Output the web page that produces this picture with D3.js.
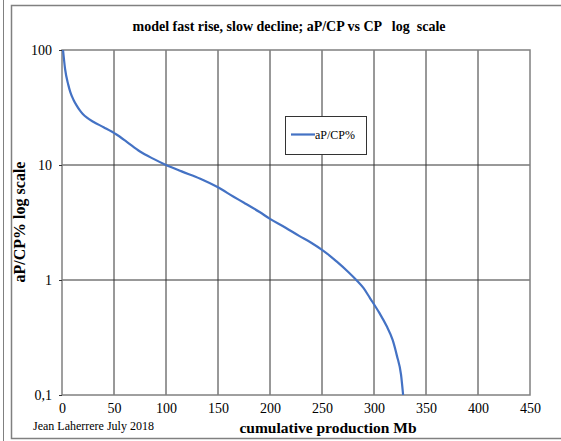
<!DOCTYPE html>
<html>
<head>
<meta charset="utf-8">
<script src="https://cdn.jsdelivr.net/npm/d3@7"></script>
<style>
body { margin: 0; background: #fff; }
text { font-family: "Liberation Serif", "Times New Roman", serif; fill: #000; }
</style>
</head>
<body>
<script>
// cumulative production (Mb) and aP/CP %
var cp = [1, 3, 6, 8, 11, 14, 17, 20, 24, 30, 40, 52, 62, 75, 88, 100, 115, 133, 150, 165, 175, 190, 200,
	215, 228, 240, 250, 257, 264, 275, 283, 290, 296, 305, 312, 318, 322, 326, 328];
var apcp = [100, 68, 50, 43, 37, 33, 30, 27.8, 25.8, 23.8, 21.3, 18.5, 16, 13.1, 11.3, 10, 8.8, 7.6, 6.4, 5.3, 4.7, 3.9, 3.4,
	2.85, 2.42, 2.1, 1.83, 1.64, 1.45, 1.18, 1, 0.85, 0.7, 0.52, 0.4, 0.3, 0.22, 0.15, 0.1];
var xTicks = [0, 50, 100, 150, 200, 250, 300, 350, 400, 450];
var yTicks = [0.1, 1, 10, 100];
var yLabels = ["0,1", "1", "10", "100"];

var W = 561, H = 441;
var svg = d3.select("body").append("svg").attr("width", W).attr("height", H);

// outer frames
svg.append("line").attr("x1", 3.5).attr("x2", 3.5).attr("y1", 0).attr("y2", H)
	.attr("stroke", "#808080").attr("stroke-width", 1);
svg.append("rect").attr("x", 11.5).attr("y", 5.5).attr("width", 560).attr("height", 433)
	.attr("fill", "none").attr("stroke", "#808080").attr("stroke-width", 1.5);

var x = d3.scaleLinear().domain([0, 450]).range([62, 530]);
var y = d3.scaleLog().domain([0.1, 100]).range([395, 50]);

// grid
svg.append("g").selectAll("line").data(xTicks.slice(1, -1)).enter().append("line")
	.attr("x1", function(d) { return x(d); }).attr("x2", function(d) { return x(d); })
	.attr("y1", y(100)).attr("y2", y(0.1))
	.attr("stroke", "#333").attr("stroke-width", 1);
svg.append("g").selectAll("line").data([1, 10]).enter().append("line")
	.attr("x1", x(0)).attr("x2", x(450))
	.attr("y1", function(d) { return y(d); }).attr("y2", function(d) { return y(d); })
	.attr("stroke", "#333").attr("stroke-width", 1);

// plot border
svg.append("rect").attr("x", x(0)).attr("y", y(100))
	.attr("width", x(450) - x(0)).attr("height", y(0.1) - y(100))
	.attr("fill", "none").attr("stroke", "#808080").attr("stroke-width", 1.5);

// axes
var xAxis = svg.append("g").attr("transform", "translate(0," + y(0.1) + ")")
	.call(d3.axisBottom(x).tickValues(xTicks).tickSize(0).tickPadding(8));
xAxis.select(".domain").remove();
xAxis.selectAll("text").style("font-size", "14px").style("font-family", "Liberation Serif");

var yAxis = svg.append("g").attr("transform", "translate(" + x(0) + ",0)")
	.call(d3.axisLeft(y).tickValues(yTicks).tickSize(3).tickPadding(7)
		.tickFormat(function(d, i) { return yLabels[i]; }));
yAxis.select(".domain").remove();
yAxis.selectAll("line").attr("stroke", "#333");
yAxis.selectAll("text").style("font-size", "14px").style("font-family", "Liberation Serif");

// curve
var line = d3.line()
	.x(function(d, i) { return x(cp[i]); })
	.y(function(d, i) { return y(apcp[i]); })
	.curve(d3.curveMonotoneX);
svg.append("path").datum(cp).attr("d", line)
	.attr("fill", "none").attr("stroke", "#4472C4").attr("stroke-width", 2.2);

// title
svg.append("text").attr("x", 289).attr("y", 31).attr("text-anchor", "middle")
	.style("font-size", "14px").style("font-weight", "bold").style("white-space", "pre")
	.text("model fast rise, slow decline; aP/CP vs CP   log  scale");

// axis titles
svg.append("text").attr("transform", "translate(25,222) rotate(-90)").attr("text-anchor", "middle")
	.style("font-size", "16px").style("font-weight", "bold")
	.text("aP/CP% log scale");
svg.append("text").attr("x", 328).attr("y", 433).attr("text-anchor", "middle")
	.style("font-size", "15.5px").style("font-weight", "bold")
	.text("cumulative production Mb");
svg.append("text").attr("x", 33).attr("y", 430)
	.style("font-size", "12px")
	.text("Jean Laherrere July 2018");

// legend
svg.append("rect").attr("x", 285.5).attr("y", 116.5).attr("width", 81).attr("height", 38)
	.attr("fill", "#fff").attr("stroke", "#333").attr("stroke-width", 1);
svg.append("line").attr("x1", 291).attr("x2", 315).attr("y1", 134.5).attr("y2", 134.5)
	.attr("stroke", "#4472C4").attr("stroke-width", 2.2);
svg.append("text").attr("x", 315).attr("y", 138.5)
	.style("font-size", "12px").text("aP/CP%");
</script>
</body>
</html>
